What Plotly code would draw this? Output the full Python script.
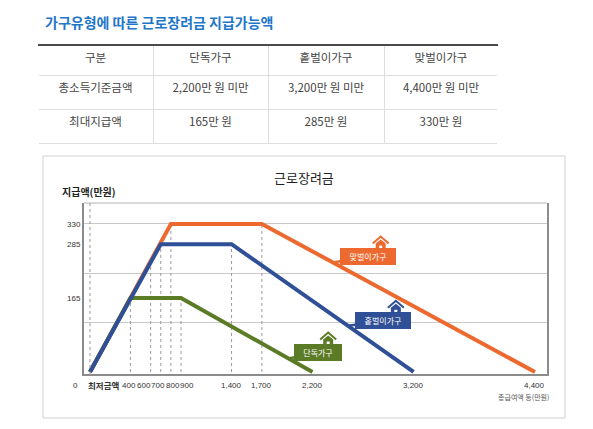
import plotly.graph_objects as go

# 가구유형별 근로장려금 (만원)
households = ["단독가구", "홑벌이가구", "맞벌이가구"]
income_limit = [2200, 3200, 4400]
max_pay = [165, 285, 330]
flat_start = [400, 700, 800]
flat_end = [900, 1400, 1700]
colors = ["#5B7B27", "#2F4F96", "#EC6A2F"]

# 점선 가이드 (x, 높이)
guide_x = [400, 600, 700, 800, 900, 1400, 1700]
guide_top = [165, 248, 285, 330, 165, 285, 330]

x_ticks = [0, 400, 600, 700, 800, 900, 1400, 1700, 2200, 3200, 4400]
x_ticktext = ["<b>최저금액</b>", "400", "600", "700", "800", "900",
              "1,400", "1,700", "2,200", "3,200", "4,400"]
y_ticks = [165, 285, 330]
y_grid = [110, 220, 330]

KR = "Noto Sans CJK KR"
NUM = "Liberation Sans"
W, H = 593, 429


def px(x):
    return x / W


def py(y):
    return 1 - y / H


fig = go.Figure()

# table
fig.add_trace(go.Table(
    domain=dict(x=[px(38), px(498)], y=[py(146), py(45)]),
    columnwidth=[115, 115, 116, 114],
    header=dict(values=["구분"] + households, height=30, align="center",
                fill_color="white", line_color="#dddddd",
                font=dict(family=KR, size=11.5, color="#444")),
    cells=dict(values=[["총소득기준금액", "최대지급액"]] +
                      [[f"{lim:,}만 원 미만", f"{mp}만 원"] for lim, mp in zip(income_limit, max_pay)],
               height=34, align="center", fill_color="white", line_color="#dddddd",
               font=dict(family=KR, size=11.5, color="#444")),
))

gx, gy = [], []
for x, top in zip(guide_x, guide_top):
    gx += [x, x, None]
    gy += [0, top, None]
fig.add_trace(go.Scatter(x=gx, y=gy, mode="lines", hoverinfo="skip",
                         line=dict(color="#9a9a9a", width=1, dash="dot")))

for i in [2, 0, 1]:
    fig.add_trace(go.Scatter(
        x=[0, flat_start[i], flat_end[i], income_limit[i]],
        y=[0, max_pay[i], max_pay[i], 0],
        mode="lines", name=households[i],
        line=dict(color=colors[i], width=4)))

shapes = [
    dict(type="line", xref="paper", yref="paper", x0=px(38), x1=px(498),
         y0=py(45), y1=py(45), line=dict(color="#4a4a4a", width=2)),
    dict(type="line", xref="paper", yref="paper", x0=px(38), x1=px(38),
         y0=py(146), y1=py(46), line=dict(color="white", width=2), layer="above"),
    dict(type="line", xref="paper", yref="paper", x0=px(498), x1=px(498),
         y0=py(146), y1=py(46), line=dict(color="white", width=2), layer="above"),
    dict(type="rect", xref="paper", yref="paper", x0=px(43), x1=px(565),
         y0=py(418), y1=py(156), line=dict(color="#d0d0d0", width=1)),
    dict(type="line", xref="x domain", yref="y domain", x0=0, x1=1, y0=1, y1=1,
         line=dict(color="#b5b5b5", width=1)),
    dict(type="line", xref="x", yref="y domain", x0=0, x1=0, y0=0, y1=1,
         line=dict(color="#9a9a9a", width=1, dash="dot")),
]

# callouts: (x on falling line, y, box offset)
callouts = [(1960, 30, 30, -6), (2550, 103, 35, -5), (2400, 244, 35, -6)]
annotations = []
for i, (cx, cy, ax, ay) in enumerate(callouts):
    annotations.append(dict(
        x=cx, y=cy, xref="x", yref="y", ax=ax, ay=ay, text=households[i],
        showarrow=True, arrowhead=0, arrowwidth=2.5, arrowcolor=colors[i], standoff=0,
        bgcolor=colors[i], bordercolor=colors[i], borderpad=2,
        width=50 if i else 42, height=11,
        font=dict(family=KR, size=8, color="white")))
    hx, hb = ax + (13 if i else 10), -ay + 7
    shapes += [
        dict(type="path", xref="x", yref="y", xsizemode="pixel", ysizemode="pixel",
             xanchor=cx, yanchor=cy,
             path=f"M {hx-8},{hb+6} L {hx},{hb+13} L {hx+8},{hb+6}",
             line=dict(color=colors[i], width=2), fillcolor="rgba(0,0,0,0)"),
        dict(type="path", xref="x", yref="y", xsizemode="pixel", ysizemode="pixel",
             xanchor=cx, yanchor=cy,
             path=f"M {hx-5},{hb} L {hx-5},{hb+6} L {hx},{hb+10} L {hx+5},{hb+6} L {hx+5},{hb} Z",
             line=dict(width=0), fillcolor=colors[i]),
        dict(type="path", xref="x", yref="y", xsizemode="pixel", ysizemode="pixel",
             xanchor=cx, yanchor=cy,
             path=f"M {hx-1.5},{hb} L {hx-1.5},{hb+4} L {hx+1.5},{hb+4} L {hx+1.5},{hb} Z",
             line=dict(width=0), fillcolor="white"),
    ]

# x tick labels (crowded ones nudged apart a little)
nudge = {0: -4, 400: -1, 600: -7, 700: -2.5, 800: 2, 900: 6.5}
for v, t in zip(x_ticks, x_ticktext):
    annotations.append(dict(
        text=t, xref="x", yref="paper", x=v, y=py(385), xshift=nudge.get(v, 0),
        xanchor="left" if v == 0 else "center", yanchor="middle", showarrow=False,
        font=dict(family=KR if v == 0 else NUM, size=8.5 if v == 0 else 8, color="#333")))

annotations += [
    dict(text="<b>가구유형에 따른 근로장려금 지급가능액</b>", xref="paper", yref="paper",
         x=px(43), y=py(22), xanchor="left", yanchor="middle", showarrow=False,
         font=dict(family=KR, size=14, color="#1F77C9")),
    dict(text="근로장려금", xref="paper", yref="paper", x=px(304), y=py(177),
         xanchor="center", yanchor="middle", showarrow=False,
         font=dict(family=KR, size=13, color="#222")),
    dict(text="<b>지급액(만원)</b>", xref="paper", yref="paper", x=px(60), y=py(192),
         xanchor="left", yanchor="middle", showarrow=False,
         font=dict(family=KR, size=10, color="#222")),
    dict(text="총급여액 등(만원)", xref="paper", yref="paper", x=px(551), y=py(397),
         xanchor="right", yanchor="middle", showarrow=False,
         font=dict(family=KR, size=7, color="#555")),
    dict(text="0", xref="paper", yref="paper", x=px(75), y=py(385),
         xanchor="center", yanchor="middle", showarrow=False,
         font=dict(family=NUM, size=8, color="#333")),
]

fig.update_layout(
    width=W, height=H,
    margin=dict(l=0, r=0, t=0, b=0),
    paper_bgcolor="white", plot_bgcolor="white",
    showlegend=False,
    xaxis=dict(domain=[px(84), px(547)], range=[-59, 4519],
               tickvals=x_ticks, showticklabels=False,
               showgrid=False, zeroline=False, showline=True, linecolor="#8c8c8c",
               linewidth=2, ticks="", fixedrange=True),
    yaxis=dict(domain=[py(374), py(203)], range=[-4.5, 376.8], tickvals=y_ticks,
               showgrid=False, zeroline=False,
               minor=dict(tickvals=y_grid, showgrid=True, gridcolor="#c9c9c9", gridwidth=1),
               showline=True, mirror=True, linecolor="#8c8c8c", linewidth=2, ticks="",
               fixedrange=True, tickfont=dict(family=NUM, size=8, color="#333")),
    shapes=shapes, annotations=annotations,
)

fig.write_html("out.html", config={"displayModeBar": False},
               post_script="document.body.style.margin='0';")
